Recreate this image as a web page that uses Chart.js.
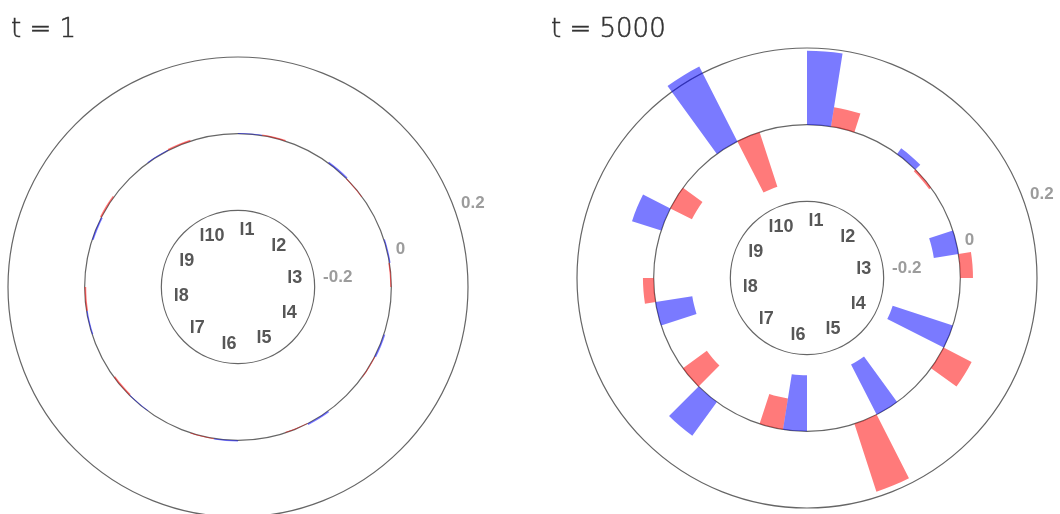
<!DOCTYPE html>
<html>
<head>
<meta charset="utf-8">
<script src="https://cdn.jsdelivr.net/npm/chart.js@4.4.1/dist/chart.umd.min.js"></script>
<style>
  html, body { margin: 0; padding: 0; background: #fff; overflow: hidden; }
  body { width: 1060px; height: 514px; position: relative; }
  .panel { position: absolute; top: 0; width: 530px; height: 530px; }
  .panel canvas { position: absolute; left: 0; top: 0; }
  .title { position: absolute; top: 15px; font: 200 26px/26px "DejaVu Sans", sans-serif; color: #333; -webkit-text-stroke: 0.5px #333; z-index: 2; white-space: nowrap; }
</style>
</head>
<body>
<div class="panel" style="left:0">
  <div class="title" style="left:11px">t = 1</div>
  <canvas id="early" width="530" height="530"></canvas>
</div>
<div class="panel" style="left:530px">
  <div class="title" style="left:21px">t = 5000</div>
  <canvas id="late" width="530" height="530"></canvas>
</div>
<script>
const labels = ['l1', 'l2', 'l3', 'l4', 'l5', 'l6', 'l7', 'l8', 'l9', 'l10']

// t = 1 : everything still sits on the zero ring
const blueEarly = [0.002, 0.004, 0.003, 0.004, 0.004, 0.003, -0.002, -0.003, -0.004, 0.002]
const redEarly = [0.003, -0.002, -0.003, 0.002, -0.002, 0.002, -0.004, -0.004, 0.004, 0.004]

// t = 5000
const blueLate = [0.193, 0.018, -0.065, -0.165, -0.147, -0.146, 0.109, -0.097, 0.08, 0.219]
const redLate = [0.051, -0.006, 0.033, 0.082, 0.186, -0.082, -0.077, 0.028, -0.063, -0.15]

const rMin = -0.4
const rMax = 0.2
const rStep = 0.2
const labelRing = -0.25

const BLUE = 'rgba(0, 0, 255, 0.52)'
const RED = 'rgba(255, 0, 0, 0.52)'

// polar area, but each bar grows from the zero ring and takes a quarter of its sector
class RingBarController extends Chart.PolarAreaController {
  updateElement (element, index, properties, mode) {
    if (properties && properties.outerRadius !== undefined) {
      const scale = this._cachedMeta.rScale
      const base = scale.getDistanceFromCenterForValue(0)
      const r = properties.outerRadius
      const slot = (properties.endAngle - properties.startAngle) / 4
      const start = properties.startAngle + this.index * slot
      properties.startAngle = start
      properties.endAngle = start + slot
      properties.innerRadius = Math.min(base, r)
      properties.outerRadius = Math.max(base, r)
    }
    super.updateElement(element, index, properties, mode)
  }
}
RingBarController.id = 'ringBar'
Chart.register(RingBarController)

const ringLabels = {
  id: 'ringLabels',
  afterDraw (chart) {
    const scale = chart.scales.r
    const ctx = chart.ctx
    const n = chart.data.labels.length
    ctx.save()
    ctx.textBaseline = 'middle'

    ctx.font = 'bold 18px "Liberation Sans", Arial, sans-serif'
    ctx.fillStyle = '#575757'
    ctx.textAlign = 'center'
    const dist = scale.getDistanceFromCenterForValue(labelRing)
    chart.data.labels.forEach((label, i) => {
      const p = scale.getPointPosition(i, dist, Math.PI * 2 / n / 4)
      ctx.fillText(label, p.x, p.y)
    })

    ctx.font = 'bold 17px "Liberation Sans", Arial, sans-serif'
    ctx.fillStyle = '#9c9c9c'
    ctx.textAlign = 'left'
    scale.ticks.forEach(tick => {
      if (tick.value <= rMin + 1e-9) return
      const r = scale.getDistanceFromCenterForValue(tick.value)
      const a = Math.asin(r / 630)
      ctx.fillText(tick.label, scale.xCenter + r * Math.cos(a) + 9, scale.yCenter - r * Math.sin(a))
    })
    ctx.restore()
  }
}

function makeChart (id, blue, red, padding) {
  return new Chart(document.getElementById(id), {
    type: 'ringBar',
    data: {
      labels,
      datasets: [
        { label: 'blue', data: blue, backgroundColor: BLUE, borderWidth: 0, clip: false },
        { label: 'red', data: red, backgroundColor: RED, borderWidth: 0, clip: false }
      ]
    },
    options: {
      responsive: false,
      animation: false,
      layout: { padding },
      plugins: {
        legend: { display: false },
        tooltip: { enabled: false }
      },
      scales: {
        r: {
          min: rMin,
          max: rMax,
          startAngle: 0,
          ticks: {
            stepSize: rStep,
            display: false,
            callback: v => String(Number(v.toFixed(2)))
          },
          grid: { circular: true, color: '#666', lineWidth: 1.2 },
          angleLines: { display: false },
          pointLabels: { display: false }
        }
      }
    },
    plugins: [ringLabels]
  })
}

makeChart('early', blueEarly, redEarly, { left: 8, right: 62, top: 57, bottom: 13 })
makeChart('late', blueLate, redLate, { left: 47, right: 23, top: 48, bottom: 22 })
</script>
</body>
</html>
